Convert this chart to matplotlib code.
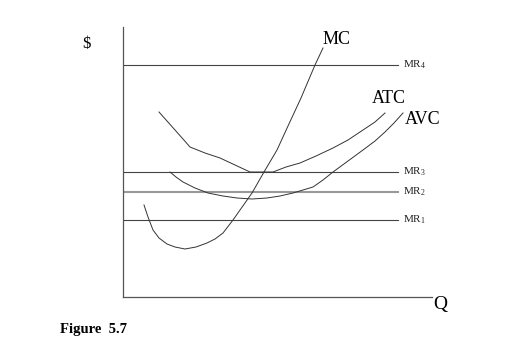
import numpy as np
import matplotlib.pyplot as plt

plt.rcParams['font.family'] = ['Liberation Serif', 'DejaVu Serif']
plt.rcParams['mathtext.default'] = 'regular'

# Curves (Q, $) in arbitrary units
mc_q = [21, 25, 30, 36, 44, 52, 62, 73, 84, 92, 100, 110, 129, 141, 154, 165, 178, 192, 200]
mc_p = [92, 80, 67, 59, 53, 50, 48, 50, 54, 58, 64, 77, 104, 125, 147, 171, 199, 232, 249]

atc_q = [36, 44, 52, 60, 67, 82, 97, 112, 127, 150, 163, 177, 193, 210, 225, 240, 252, 262]
atc_p = [185, 176, 167, 158, 150, 144, 139, 132, 125, 125, 130, 134, 141, 149, 157, 167, 175, 184]

avc_q = [47, 53, 60, 72, 85, 100, 114, 129, 144, 157, 170, 180, 190, 200, 210, 225, 240, 252, 262, 271, 280]
avc_p = [125, 120, 115, 109, 104, 101, 99, 98, 99, 101, 104, 107, 110, 117, 125, 136, 147, 156, 165, 174, 184]

# Marginal revenue levels
mr_levels = [77, 105, 125, 232]
mr_labels = ['MR$_1$', 'MR$_2$', 'MR$_3$', 'MR$_4$']
mr_end = 275

fig = plt.figure(figsize=(5.11, 3.51), dpi=100)
ax = fig.add_axes([123 / 511, 54 / 351, 309 / 511, 270 / 351])
ax.set_xlim(0, 309)
ax.set_ylim(0, 270)
for s in ['top', 'right']:
    ax.spines[s].set_visible(False)
for s in ['left', 'bottom']:
    ax.spines[s].set_color('#555555')
    ax.spines[s].set_linewidth(0.9)
ax.set_xticks([])
ax.set_yticks([])
ax.patch.set_alpha(0)

for lvl, lab in zip(mr_levels, mr_labels):
    col = '#999999' if lab == 'MR$_2$' else '#444444'
    lw = 1.5 if lab == 'MR$_2$' else 0.8
    ax.plot([0, mr_end], [lvl, lvl], color=col, lw=lw)
    ax.text(mr_end + 5, lvl, lab, fontsize=8, va='center', ha='left', color='#222222')

ax.plot(mc_q, mc_p, color='#333333', lw=0.7)
ax.plot(atc_q, atc_p, color='#333333', lw=0.7)
ax.plot(avc_q, avc_p, color='#333333', lw=0.7)

ax.text(200, 249, 'MC', fontsize=13, ha='left', va='bottom', clip_on=False)
ax.text(249, 190, 'ATC', fontsize=13, ha='left', va='bottom', clip_on=False)
ax.text(282, 169, 'AVC', fontsize=13, ha='left', va='bottom', clip_on=False)
ax.text(-37, 253, '$', fontsize=12, ha='center', va='center', clip_on=False)
ax.text(310, -8, 'Q', fontsize=14, ha='left', va='center', clip_on=False)

fig.text(60 / 511, 1 - 330 / 351, 'Figure  5.7', fontsize=10.5, fontweight='bold',
         ha='left', va='center')

fig.savefig('out.png', dpi=100)
